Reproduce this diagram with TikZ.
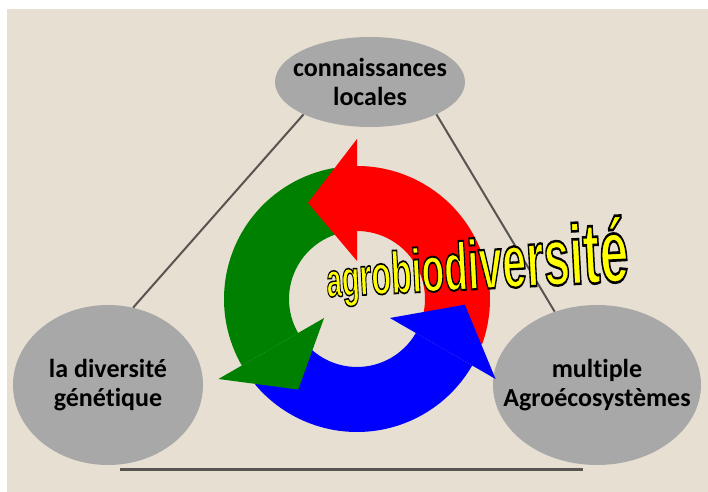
\documentclass[tikz,border=0pt]{standalone}
\usepackage{graphicx}
\usepackage{fontspec}
\setmainfont{Carlito}[Ligatures=NoCommon]
\newfontfamily\wordfont{Liberation Sans Bold}[FakeBold=3]
\usetikzlibrary{shapes.geometric}

\definecolor{linen}{RGB}{231,223,209}
\definecolor{blobgray}{RGB}{168,168,168}
\definecolor{linkgray}{RGB}{88,84,80}
\definecolor{wordyellow}{RGB}{255,255,0}
\definecolor{cyclegreen}{RGB}{0,128,0}

% word growing letter by letter, yellow with a black rim
\newcommand\agroword{\wordfont\special{pdf:bcolor [1 1 0] [0 0 0]}\scalebox{0.573}[1]{\foreach \c [count=\i from 0] in {a,g,r,o,b,i,o,d,i,v,e,r,s,i,t,é}{\pgfmathsetmacro\fs{36+2.1*\i}\fontsize{\fs pt}{\fs pt}\selectfont\c}}\special{pdf:ecolor}}

\begin{document}
\begin{tikzpicture}[
    x=0.75pt, y=0.75pt,
    blob/.style={ellipse, fill=blobgray, inner xsep=-60pt, inner ysep=-30pt, align=center, font=\fontsize{19.5}{22}\selectfont\bfseries},
    link/.style={draw=linkgray, line width=1.5pt},
    word/.style={anchor=base west, rotate=3, inner sep=0pt}
]
    \useasboundingbox (0,0) rectangle (708,492);
    \fill[linen] (7,0) rectangle (708,483);

    % the three poles
    \node[blob, minimum width=142.5pt, minimum height=67.5pt] (locales) at (370,410) {connaissances\\locales};
    \node[blob, minimum width=142.5pt, minimum height=120pt] (genetique) at (108,107) {la diversité\\génétique};
    \node[blob, minimum width=156pt, minimum height=120pt] (agroeco) at (597,107) {multiple\\Agroécosystèmes};

    \draw[link] (locales.206) -- (genetique.72);
    \draw[link] (locales.334) -- (agroeco.120);
    \draw[link, line width=2.25pt] ([shift={(12,-4)}]genetique.south) -- ([shift={(-14,-4)}]agroeco.south);

    % cycle arrows
    \coordinate (hub) at (357,193);
    \foreach \col/\a [evaluate=\a as \b using \a+110] in {red/-20, cyclegreen/100, blue/220}
        \fill[\col] ([shift={(\a:133)}]hub) arc[start angle=\a, end angle=\b, radius=133]
            -- ([shift={(\b:68)}]hub) arc[start angle=\b, end angle=\a, radius=68] -- cycle;
    \foreach \col/\a [evaluate=\a as \t using \a+27] in {red/90, cyclegreen/210, blue/330}
        \fill[\col] ([shift={(\a:38)}]hub) -- ([shift={(\a:160)}]hub) -- ([shift={(\t:108)}]hub) -- cycle;

    % agrobiodiversité
    \coordinate (wordpos) at (327,195);
    \node[word] (agro) at (wordpos) {\agroword};
\end{tikzpicture}
\end{document}
